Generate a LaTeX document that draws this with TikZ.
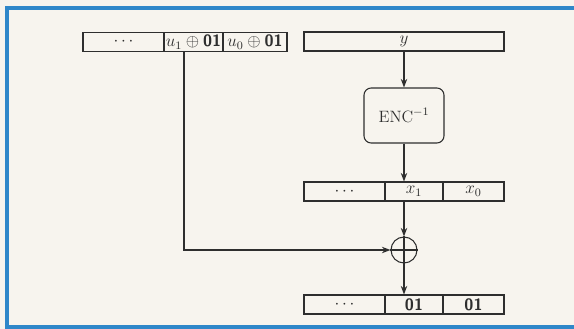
\documentclass[tikz,border=0pt]{standalone}
\usetikzlibrary{arrows.meta,calc}
\definecolor{bg}{HTML}{F7F4EE}
\definecolor{frameblue}{HTML}{2F87C9}
\definecolor{ink}{HTML}{2E2E2E}
\tikzset{
  cell/.style={draw=ink, line width=0.75pt, rectangle, inner sep=0pt, text=ink, minimum height=19*0.7pt},
  encbox/.style={draw=ink, line width=0.75pt, rounded corners=5pt, inner sep=0pt, text=ink, minimum width=80*0.7pt, minimum height=55*0.7pt},
  xorc/.style={draw=ink, line width=0.75pt, circle, inner sep=0pt, minimum size=26*0.7pt},
  conn/.style={draw=ink, line width=0.75pt},
  arr/.style={conn, -{Stealth[length=6pt,width=4.5pt]}},
}
\newcommand{\bz}{\textsf{\textbf{01}}}
\begin{document}
\begin{tikzpicture}[x=0.7pt,y=-0.7pt, font=\fontsize{11.5pt}{13pt}\selectfont]
\useasboundingbox (0,0) rectangle (574,329);
\fill[bg] (0,0) rectangle (574,329);
% frame
\draw[frameblue, line width=2.8pt] (576,8) -- (7,8) -- (7,327) -- (576,327);
% top-left register
\node[cell, minimum width=81*0.7pt] (a1) at (123.5,42) {$\cdots$};
\node[cell, minimum width=59*0.7pt] (a2) at (193.5,42) {$u_1 \oplus {}$\bz};
\node[cell, minimum width=64*0.7pt] (a3) at (255,42) {$u_0 \oplus {}$\bz};
% top-right register
\node[cell, minimum width=200*0.7pt] (yy) at (404,41.5) {$y$};
% ENC
\node[encbox] (enc) at (404,115.5) {ENC$^{-1}$};
% middle register
\node[cell, minimum width=81*0.7pt] (m1) at (344.5,191.5) {$\cdots$};
\node[cell, minimum width=58*0.7pt] (m2) at (414,191.5) {$x_1$};
\node[cell, minimum width=61*0.7pt] (m3) at (473.5,191.5) {$x_0$};
% xor
\node[xorc] (xor) at (404,250) {};
\draw[conn] (xor.north) -- (xor.south) (xor.west) -- (xor.east);
% bottom register
\node[cell, minimum width=81*0.7pt] (b1) at (344.5,304.5) {$\cdots$};
\node[cell, minimum width=58*0.7pt] (b2) at (414,304.5) {\bz};
\node[cell, minimum width=61*0.7pt] (b3) at (473.5,304.5) {\bz};
% connectors
\draw[arr] (yy.south) -- (enc.north);
\draw[arr] (enc.south) -- (enc.south |- m2.north);
\draw[arr] (enc.south |- m2.south) -- (xor.north);
\draw[arr] (xor.south) -- (xor.south |- b2.north);
\coordinate (tap) at (184,51.5);
\draw[arr] (tap) |- (xor.west);
\end{tikzpicture}
\end{document}
